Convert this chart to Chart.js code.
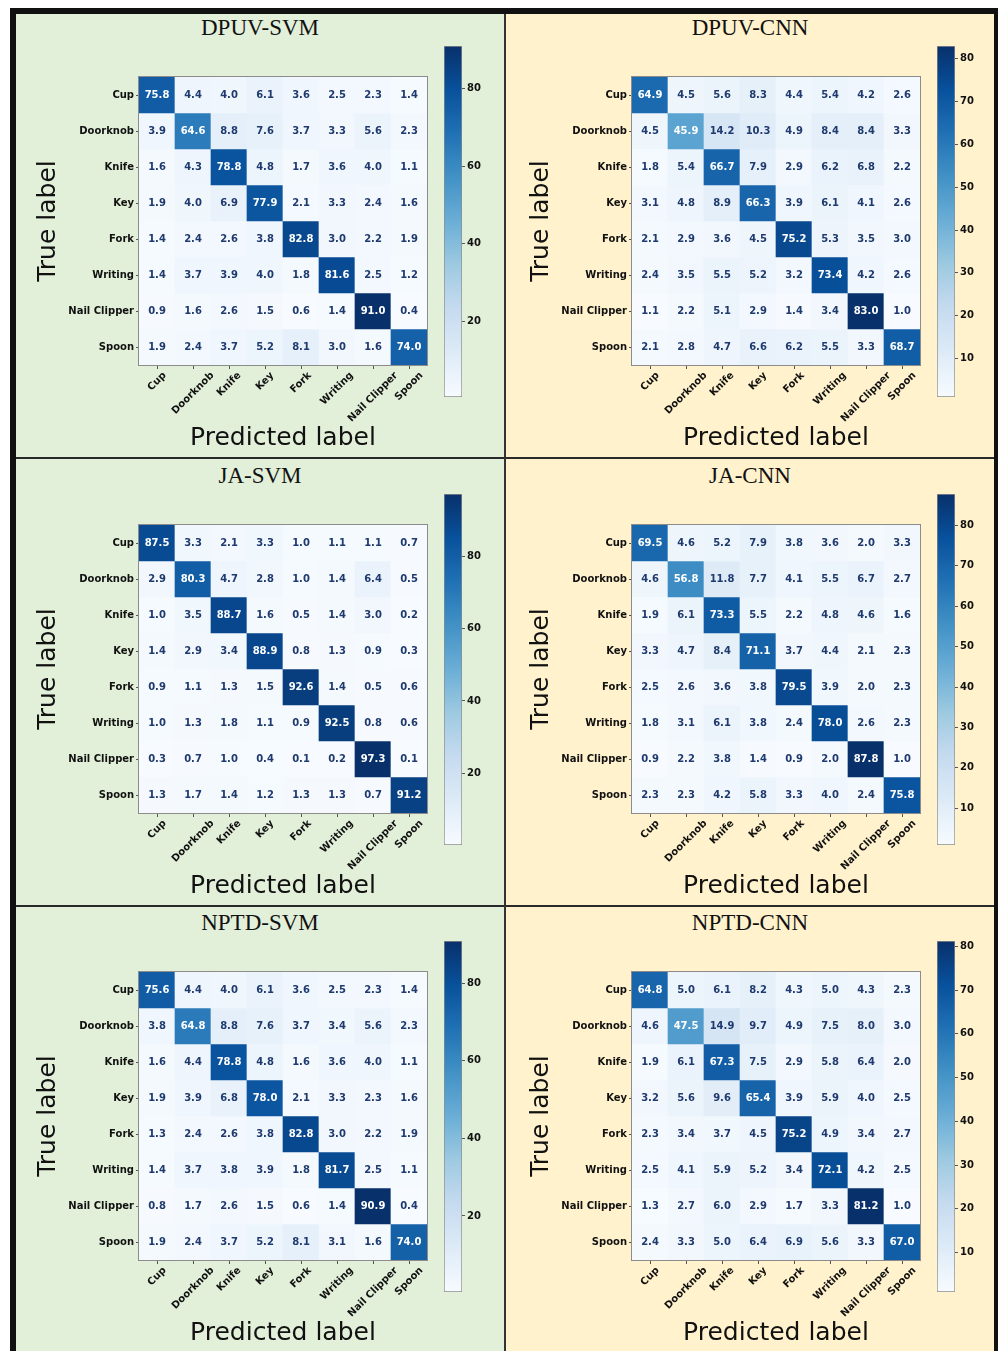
<!DOCTYPE html>
<html>
<head>
<meta charset="utf-8">
<script src="https://cdn.jsdelivr.net/npm/chart.js@4.4.1/dist/chart.umd.min.js"></script>
<style>
    body { margin: 0; background: #fff; }
    #page { position: relative; width: 998px; height: 1351px; overflow: hidden; background: #fff; }
    .box { position: absolute; }
    .ptitle { position: absolute; text-align: center; font: 23px "Liberation Serif", serif; color: #111; line-height: 26px; }
    canvas { position: absolute; }
</style>
</head>
<body>
<div id="page"></div>
<script>
// ---- data ----
const CLASSES = ["Cup", "Doorknob", "Knife", "Key", "Fork", "Writing", "Nail Clipper", "Spoon"];
const TITLES = ["DPUV-SVM", "DPUV-CNN", "JA-SVM", "JA-CNN", "NPTD-SVM", "NPTD-CNN"];

const DPUV_SVM = [
    [75.8, 4.4, 4.0, 6.1, 3.6, 2.5, 2.3, 1.4],
    [3.9, 64.6, 8.8, 7.6, 3.7, 3.3, 5.6, 2.3],
    [1.6, 4.3, 78.8, 4.8, 1.7, 3.6, 4.0, 1.1],
    [1.9, 4.0, 6.9, 77.9, 2.1, 3.3, 2.4, 1.6],
    [1.4, 2.4, 2.6, 3.8, 82.8, 3.0, 2.2, 1.9],
    [1.4, 3.7, 3.9, 4.0, 1.8, 81.6, 2.5, 1.2],
    [0.9, 1.6, 2.6, 1.5, 0.6, 1.4, 91.0, 0.4],
    [1.9, 2.4, 3.7, 5.2, 8.1, 3.0, 1.6, 74.0]
];
const DPUV_CNN = [
    [64.9, 4.5, 5.6, 8.3, 4.4, 5.4, 4.2, 2.6],
    [4.5, 45.9, 14.2, 10.3, 4.9, 8.4, 8.4, 3.3],
    [1.8, 5.4, 66.7, 7.9, 2.9, 6.2, 6.8, 2.2],
    [3.1, 4.8, 8.9, 66.3, 3.9, 6.1, 4.1, 2.6],
    [2.1, 2.9, 3.6, 4.5, 75.2, 5.3, 3.5, 3.0],
    [2.4, 3.5, 5.5, 5.2, 3.2, 73.4, 4.2, 2.6],
    [1.1, 2.2, 5.1, 2.9, 1.4, 3.4, 83.0, 1.0],
    [2.1, 2.8, 4.7, 6.6, 6.2, 5.5, 3.3, 68.7]
];
const JA_SVM = [
    [87.5, 3.3, 2.1, 3.3, 1.0, 1.1, 1.1, 0.7],
    [2.9, 80.3, 4.7, 2.8, 1.0, 1.4, 6.4, 0.5],
    [1.0, 3.5, 88.7, 1.6, 0.5, 1.4, 3.0, 0.2],
    [1.4, 2.9, 3.4, 88.9, 0.8, 1.3, 0.9, 0.3],
    [0.9, 1.1, 1.3, 1.5, 92.6, 1.4, 0.5, 0.6],
    [1.0, 1.3, 1.8, 1.1, 0.9, 92.5, 0.8, 0.6],
    [0.3, 0.7, 1.0, 0.4, 0.1, 0.2, 97.3, 0.1],
    [1.3, 1.7, 1.4, 1.2, 1.3, 1.3, 0.7, 91.2]
];
const JA_CNN = [
    [69.5, 4.6, 5.2, 7.9, 3.8, 3.6, 2.0, 3.3],
    [4.6, 56.8, 11.8, 7.7, 4.1, 5.5, 6.7, 2.7],
    [1.9, 6.1, 73.3, 5.5, 2.2, 4.8, 4.6, 1.6],
    [3.3, 4.7, 8.4, 71.1, 3.7, 4.4, 2.1, 2.3],
    [2.5, 2.6, 3.6, 3.8, 79.5, 3.9, 2.0, 2.3],
    [1.8, 3.1, 6.1, 3.8, 2.4, 78.0, 2.6, 2.3],
    [0.9, 2.2, 3.8, 1.4, 0.9, 2.0, 87.8, 1.0],
    [2.3, 2.3, 4.2, 5.8, 3.3, 4.0, 2.4, 75.8]
];
const NPTD_SVM = [
    [75.6, 4.4, 4.0, 6.1, 3.6, 2.5, 2.3, 1.4],
    [3.8, 64.8, 8.8, 7.6, 3.7, 3.4, 5.6, 2.3],
    [1.6, 4.4, 78.8, 4.8, 1.6, 3.6, 4.0, 1.1],
    [1.9, 3.9, 6.8, 78.0, 2.1, 3.3, 2.3, 1.6],
    [1.3, 2.4, 2.6, 3.8, 82.8, 3.0, 2.2, 1.9],
    [1.4, 3.7, 3.8, 3.9, 1.8, 81.7, 2.5, 1.1],
    [0.8, 1.7, 2.6, 1.5, 0.6, 1.4, 90.9, 0.4],
    [1.9, 2.4, 3.7, 5.2, 8.1, 3.1, 1.6, 74.0]
];
const NPTD_CNN = [
    [64.8, 5.0, 6.1, 8.2, 4.3, 5.0, 4.3, 2.3],
    [4.6, 47.5, 14.9, 9.7, 4.9, 7.5, 8.0, 3.0],
    [1.9, 6.1, 67.3, 7.5, 2.9, 5.8, 6.4, 2.0],
    [3.2, 5.6, 9.6, 65.4, 3.9, 5.9, 4.0, 2.5],
    [2.3, 3.4, 3.7, 4.5, 75.2, 4.9, 3.4, 2.7],
    [2.5, 4.1, 5.9, 5.2, 3.4, 72.1, 4.2, 2.5],
    [1.3, 2.7, 6.0, 2.9, 1.7, 3.3, 81.2, 1.0],
    [2.4, 3.3, 5.0, 6.4, 6.9, 5.6, 3.3, 67.0]
];
const MATRICES = [DPUV_SVM, DPUV_CNN, JA_SVM, JA_CNN, NPTD_SVM, NPTD_CNN];

const SVM_CBAR_TICKS = [20, 40, 60, 80];
const CNN_CBAR_TICKS = [10, 20, 30, 40, 50, 60, 70, 80];
const CBAR_TICKS = [SVM_CBAR_TICKS, CNN_CBAR_TICKS, SVM_CBAR_TICKS, CNN_CBAR_TICKS, SVM_CBAR_TICKS, CNN_CBAR_TICKS];

// matplotlib "Blues"
const BLUES = ["#f7fbff", "#deebf7", "#c6dbef", "#9ecae1", "#6baed6", "#4292c6", "#2171b5", "#08519c", "#08306b"];

// ---- layout ----
const COL_X = [16, 506], COL_W = [488, 488];
const ROW_Y = [14, 459, 907], ROW_H = [443, 446, 444];
const MAT_X = [139, 632], MAT_Y = [77, 525, 972];
const PANEL_BG = ["#e2efd9", "#fff2cc"];
const CELL = 36;

Chart.defaults.font.family = "'DejaVu Sans', sans-serif";

const page = document.getElementById("page");

function box(x, y, w, h, color) {
    const d = document.createElement("div");
    d.className = "box";
    d.style.cssText = "left:" + x + "px;top:" + y + "px;width:" + w + "px;height:" + h + "px;background:" + color;
    page.appendChild(d);
}

function hexRgb(h) {
    return [parseInt(h.slice(1, 3), 16), parseInt(h.slice(3, 5), 16), parseInt(h.slice(5, 7), 16)];
}

function blues(t) {
    t = Math.max(0, Math.min(1, t));
    const s = t * (BLUES.length - 1);
    const i = Math.min(Math.floor(s), BLUES.length - 2);
    const f = s - i;
    const a = hexRgb(BLUES[i]), b = hexRgb(BLUES[i + 1]);
    return "rgb(" + a.map(function (v, k) { return Math.round(v + (b[k] - v) * f); }).join(",") + ")";
}

function addCanvas(x, y, w, h) {
    const c = document.createElement("canvas");
    c.width = w;
    c.height = h;
    c.style.left = x + "px";
    c.style.top = y + "px";
    c.style.width = w + "px";
    c.style.height = h + "px";
    page.appendChild(c);
    return c;
}

const frame = {
    id: "frame",
    afterDatasetsDraw(chart) {
        const a = chart.chartArea, ctx = chart.ctx;
        ctx.save();
        ctx.strokeStyle = "#8c8c8c";
        ctx.lineWidth = 1;
        ctx.strokeRect(a.left - 0.5, a.top - 0.5, a.width + 1, a.height + 1);
        ctx.restore();
    }
};

// rotated x labels, centred on the tick like matplotlib ha="center"
const xLabels = {
    id: "xLabels",
    afterDraw(chart) {
        const xs = chart.scales.x, ctx = chart.ctx;
        const top = chart.chartArea.bottom + 5;
        ctx.save();
        ctx.font = "bold 10px 'DejaVu Sans'";
        ctx.fillStyle = "#111";
        ctx.textAlign = "center";
        ctx.textBaseline = "middle";
        CLASSES.forEach(function (name, i) {
            const w = ctx.measureText(name).width;
            const half = (w + 11) * Math.SQRT1_2 / 2;
            ctx.save();
            ctx.translate(xs.getPixelForValue(i), top + half);
            ctx.rotate(-Math.PI / 4);
            ctx.fillText(name, 0, 0);
            ctx.restore();
        });
        ctx.restore();
    }
};

function cellText(data) {
    const hi = Math.max.apply(null, data.flat());
    return {
        id: "cellText",
        afterDatasetsDraw(chart) {
            const xs = chart.scales.x, ys = chart.scales.y, ctx = chart.ctx;
            ctx.save();
            ctx.font = "bold 10px 'DejaVu Sans'";
            ctx.textAlign = "center";
            ctx.textBaseline = "middle";
            data.forEach(function (row, r) {
                row.forEach(function (v, c) {
                    ctx.fillStyle = v > hi / 2 ? "#ffffff" : "#1f3a6f";
                    ctx.fillText(v.toFixed(1), xs.getPixelForValue(c), ys.getPixelForValue(r) + 0.5);
                });
            });
            ctx.restore();
        }
    };
}

function drawMatrix(canvas, data) {
    const flat = data.flat();
    const lo = Math.min.apply(null, flat), hi = Math.max.apply(null, flat);
    const datasets = data.map(function (row, r) {
        return {
            data: row.map(function () { return [r - 0.5, r + 0.5]; }),
            backgroundColor: row.map(function (v) { return blues((v - lo) / (hi - lo)); }),
            borderWidth: 0,
            barPercentage: 1,
            categoryPercentage: 1,
            grouped: false
        };
    });
    new Chart(canvas, {
        type: "bar",
        data: { labels: CLASSES, datasets: datasets },
        options: {
            responsive: false,
            animation: false,
            devicePixelRatio: 1,
            layout: { padding: { left: 13, right: 9, top: 8, bottom: 0 } },
            plugins: { legend: { display: false }, tooltip: { enabled: false } },
            scales: {
                x: {
                    grid: { offset: false, drawOnChartArea: false, tickLength: 4, color: "#555" },
                    border: { display: false },
                    ticks: { display: false },
                    title: { display: true, text: "Predicted label", color: "#111", font: { size: 25 }, padding: { top: 4, bottom: 4 } },
                    afterFit: function (s) { s.height = 92; }
                },
                y: {
                    type: "linear",
                    reverse: true,
                    min: -0.5,
                    max: 7.5,
                    afterBuildTicks: function (s) { s.ticks = CLASSES.map(function (c, i) { return { value: i }; }); },
                    grid: { drawOnChartArea: false, tickLength: 3, color: "#555" },
                    border: { display: false },
                    ticks: {
                        callback: function (v) { return CLASSES[v]; },
                        color: "#111",
                        font: { size: 10, weight: "bold" },
                        padding: 2
                    },
                    title: { display: true, text: "True label", color: "#111", font: { size: 25 }, padding: { top: 4, bottom: 4 } },
                    afterFit: function (s) { s.width = 110; }
                }
            }
        },
        plugins: [cellText(data), frame, xLabels]
    });
}

function drawColorbar(canvas, data, tickVals) {
    const flat = data.flat();
    const lo = Math.min.apply(null, flat), hi = Math.max.apply(null, flat);
    new Chart(canvas, {
        type: "bar",
        data: {
            labels: [""],
            datasets: [{
                data: [[lo, hi]],
                backgroundColor: function (ctx) {
                    const a = ctx.chart.chartArea;
                    if (!a) return BLUES[4];
                    const g = ctx.chart.ctx.createLinearGradient(0, a.bottom, 0, a.top);
                    BLUES.forEach(function (c, i) { g.addColorStop(i / (BLUES.length - 1), c); });
                    return g;
                },
                borderColor: "#8c8c8c",
                borderWidth: 1,
                borderSkipped: false,
                barPercentage: 1,
                categoryPercentage: 1
            }]
        },
        options: {
            responsive: false,
            animation: false,
            devicePixelRatio: 1,
            layout: { padding: { left: 0, right: 0, top: 10, bottom: 10 } },
            plugins: { legend: { display: false }, tooltip: { enabled: false } },
            scales: {
                x: { display: false },
                y: {
                    position: "right",
                    min: lo,
                    max: hi,
                    afterBuildTicks: function (s) { s.ticks = tickVals.map(function (v) { return { value: v }; }); },
                    grid: { drawOnChartArea: false, tickLength: 3, color: "#555" },
                    border: { display: false },
                    ticks: { color: "#111", font: { size: 10, weight: "bold" }, padding: 2 },
                    afterFit: function (s) { s.width = 34; }
                }
            }
        }
    });
}

// ---- frame and panels ----
for (let r = 0; r < 3; r++) {
    for (let c = 0; c < 2; c++) {
        box(COL_X[c], ROW_Y[r], COL_W[c], ROW_H[r], PANEL_BG[c]);
    }
}
box(10, 8, 988, 6, "#111");          // top edge
box(10, 8, 6, 1343, "#111");         // left edge
box(994, 8, 4, 1343, "#111");        // right edge
box(16, 457, 978, 2, "#2a2a2a");
box(16, 905, 978, 2, "#2a2a2a");
box(504, 14, 2, 1337, "#333");

MATRICES.forEach(function (data, k) {
    const r = Math.floor(k / 2), c = k % 2;
    const mx = MAT_X[c], my = MAT_Y[r];

    const t = document.createElement("div");
    t.className = "ptitle";
    t.style.left = COL_X[c] + "px";
    t.style.width = COL_W[c] + "px";
    t.style.top = (my - 62) + "px";
    t.textContent = TITLES[k];
    page.appendChild(t);

    const mc = addCanvas(mx - 123, my - 8, 123 + CELL * 8 + 9, 8 + CELL * 8 + 92);
    drawMatrix(mc, data);

    const cc = addCanvas(mx + CELL * 8 + 17, my - 31 - 10, 18 + 34, 351 + 20);
    drawColorbar(cc, data, CBAR_TICKS[k]);
});
</script>
</body>
</html>
